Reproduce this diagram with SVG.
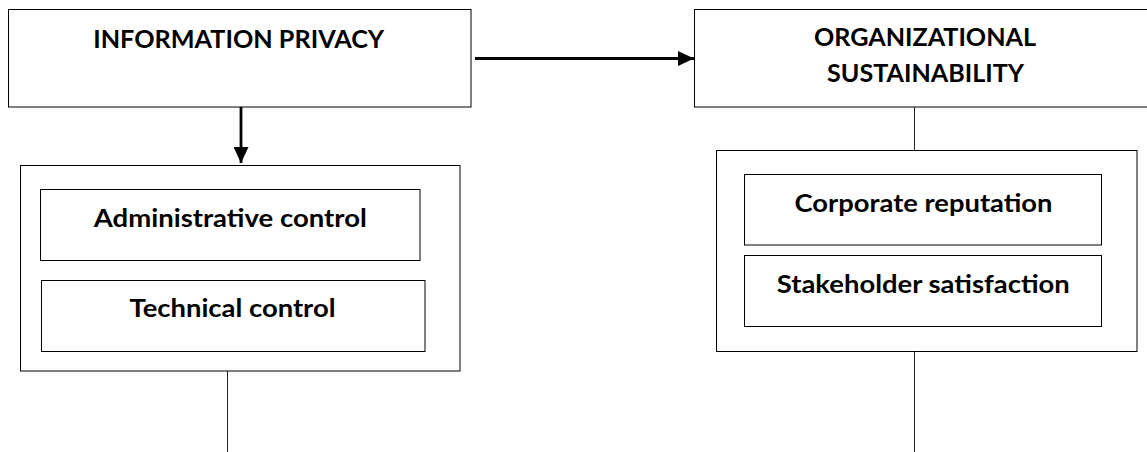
<svg xmlns="http://www.w3.org/2000/svg" width="1147" height="452" viewBox="0 0 1147 452">
<style>
.box{fill:#fff;stroke:#000;stroke-width:1}
.lbl{font-family:Lato,"Open Sans","Liberation Sans",sans-serif;font-weight:bold;font-size:25.5px;fill:#000;text-anchor:middle}
.con{fill:none;stroke:#222;stroke-width:1}
.arr{fill:none;stroke:#000;stroke-width:2.8}
</style>
<defs>
<marker id="ah" markerUnits="userSpaceOnUse" markerWidth="16" markerHeight="15" refX="16" refY="7.5" orient="auto" viewBox="0 0 16 15">
<path d="M0,0 L16,7.5 L0,15 z" fill="#000"/>
</marker>
</defs>
<rect width="1147" height="452" fill="#fff"/>
<g id="info-privacy">
<rect class="box" x="8.5" y="9.5" width="462.5" height="97.5"/>
<text class="lbl" x="238.7" y="47.5" textLength="291" lengthAdjust="spacingAndGlyphs">INFORMATION PRIVACY</text>
</g>
<g id="org-sustainability">
<rect class="box" x="694.5" y="9.5" width="470" height="97.5"/>
<text class="lbl" x="925" y="46" textLength="222" lengthAdjust="spacingAndGlyphs">ORGANIZATIONAL</text>
<text class="lbl" x="925.5" y="82" textLength="197" lengthAdjust="spacingAndGlyphs">SUSTAINABILITY</text>
</g>
<g id="controls">
<rect class="box" x="20.5" y="165.5" width="439.5" height="205.5"/>
</g>
<g id="administrative-control">
<rect class="box" x="40.5" y="189.5" width="379.5" height="71"/>
<text class="lbl" x="230.3" y="226.5" textLength="273" lengthAdjust="spacingAndGlyphs">Administrative control</text>
</g>
<g id="technical-control">
<rect class="box" x="41.5" y="280.5" width="383.5" height="71"/>
<text class="lbl" x="232.5" y="317" textLength="206" lengthAdjust="spacingAndGlyphs">Technical control</text>
</g>
<g id="outcomes">
<rect class="box" x="716.5" y="150.5" width="420.5" height="201"/>
</g>
<g id="corporate-reputation">
<rect class="box" x="744.5" y="174.5" width="357" height="70.5"/>
<text class="lbl" x="923.5" y="212" textLength="258" lengthAdjust="spacingAndGlyphs">Corporate reputation</text>
</g>
<g id="stakeholder-satisfaction">
<rect class="box" x="744.5" y="255.5" width="357" height="71"/>
<text class="lbl" x="923.3" y="292.5" textLength="293" lengthAdjust="spacingAndGlyphs">Stakeholder satisfaction</text>
</g>
<g id="connectors">
<line class="arr" x1="475" y1="58.5" x2="694" y2="58.5" marker-end="url(#ah)"/>
<line class="arr" x1="241" y1="107" x2="241" y2="163" marker-end="url(#ah)"/>
<line class="con" x1="227.5" y1="371" x2="227.5" y2="452"/>
<line class="con" x1="914.5" y1="107" x2="914.5" y2="150"/>
<line class="con" x1="914.5" y1="351.5" x2="914.5" y2="452"/>
</g>
</svg>
